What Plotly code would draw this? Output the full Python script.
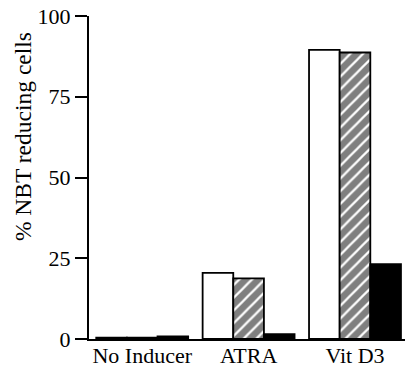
import plotly.graph_objects as go

categories = ["No Inducer", "ATRA", "Vit D3"]
series_open = [0.4, 20.5, 89.5]
series_hatched = [0.4, 18.8, 88.7]
series_solid = [0.8, 1.5, 23.2]
y_ticks = [0, 25, 50, 75, 100]

FONT = "Liberation Serif, Times New Roman, serif"

fig = go.Figure()
fig.add_trace(go.Bar(x=categories, y=series_open, marker=dict(color="white", line=dict(color="black", width=1.8))))
fig.add_trace(go.Bar(x=categories, y=series_hatched,
                     marker=dict(color="white", line=dict(color="black", width=1.8),
                                 pattern=dict(shape="/", fgcolor="black", bgcolor="white", size=9, solidity=0.75))))
fig.add_trace(go.Bar(x=categories, y=series_solid, marker=dict(color="black", line=dict(color="black", width=1.8))))

fig.update_layout(
    width=406, height=373,
    margin=dict(l=89, r=1, t=16, b=34, autoexpand=False),
    paper_bgcolor="white", plot_bgcolor="white",
    barmode="group", bargap=0.136, bargroupgap=0,
    showlegend=False,
    font=dict(family=FONT, size=22, color="black"),
    xaxis=dict(range=[-0.5, 2.47], showline=True, linecolor="black", linewidth=2,
               ticks="", showgrid=False, zeroline=False, ticklabelstandoff=-4,
               tickfont=dict(family=FONT, size=22, color="black")),
    yaxis=dict(range=[0, 100], tickvals=y_ticks, showline=True, linecolor="black", linewidth=2,
               ticks="outside", ticklen=12, tickwidth=2, tickcolor="black",
               showgrid=False, zeroline=False,
               tickfont=dict(family=FONT, size=22, color="black")),
    annotations=[dict(text="% NBT reducing cells", textangle=-90, xref="paper", yref="paper",
                      x=-0.209, y=0.628, xanchor="center", yanchor="middle", showarrow=False,
                      font=dict(family=FONT, size=23.5, color="black"))],
)

fig.write_html("out.html", config={"displayModeBar": False},
               post_script="document.body.style.margin='0';document.body.style.overflow='hidden';")
